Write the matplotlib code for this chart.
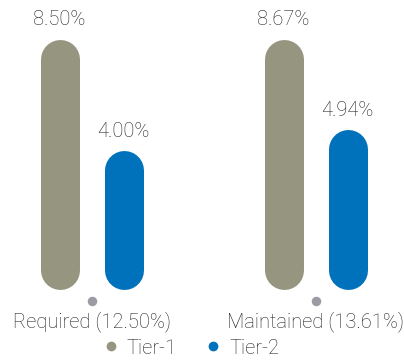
import matplotlib
matplotlib.use("Agg")
import matplotlib.pyplot as plt
from matplotlib.lines import Line2D
from matplotlib.transforms import blended_transform_factory

# data
groups = ["Required (12.50%)", "Maintained (13.61%)"]
series = ["Tier-1", "Tier-2"]
tier1 = [8.50, 8.67]
tier2 = [4.00, 4.94]
colors = ["#96957f", "#0071bb"]
dot_color = "#9b9ba3"
text_color = "#222222"

plt.rcParams["font.family"] = ["Roboto", "DejaVu Sans"]
plt.rcParams["font.weight"] = "light"

W, H = 404, 360
fig = plt.figure(figsize=(W / 100, H / 100), dpi=100)

bar_w = 39 * 72 / 100  # bar width in points
lefts = [2, 226]

for i, g in enumerate(groups):
    ax = fig.add_axes([lefts[i] / W, (H - 301) / H, 160 / W, 301 / H])
    vals = [tier1[i], tier2[i]]
    vmax = max(vals)
    for j, v in enumerate(vals):
        ax.plot([j, j], [0, v], color=colors[j], lw=bar_w,
                solid_capstyle="round", zorder=2)
        ax.annotate(f"{v:.2f}%", (j, v), xytext=(0, 21.5),
                    textcoords="offset points", ha="center", va="bottom",
                    fontsize=14.5, color=text_color)
    ax.set_xlim(-0.9, 1.6)
    ax.set_ylim(-0.147 * vmax, 1.277 * vmax)
    trans = blended_transform_factory(ax.transData, ax.transAxes)
    ax.scatter([0.5], [0], s=47, color=dot_color, transform=trans,
               clip_on=False, zorder=3, linewidths=0)
    ax.set_xticks([0.5])
    ax.set_xticklabels([g], fontsize=14.5, color=text_color)
    ax.tick_params(axis="x", length=0, pad=7.5)
    ax.set_yticks([])
    for s in ax.spines.values():
        s.set_visible(False)
    ax.patch.set_alpha(0)

handles = [Line2D([], [], marker="o", linestyle="none", markersize=7,
                  markerfacecolor=c, markeredgewidth=0) for c in colors]
fig.legend(handles, series, ncol=2, loc="center", frameon=False,
           bbox_to_anchor=(190 / W, (H - 348) / H), fontsize=14.5,
           handletextpad=0.3, columnspacing=1.3, labelcolor=text_color,
           handlelength=1.0)

fig.savefig("out.png", dpi=100)
